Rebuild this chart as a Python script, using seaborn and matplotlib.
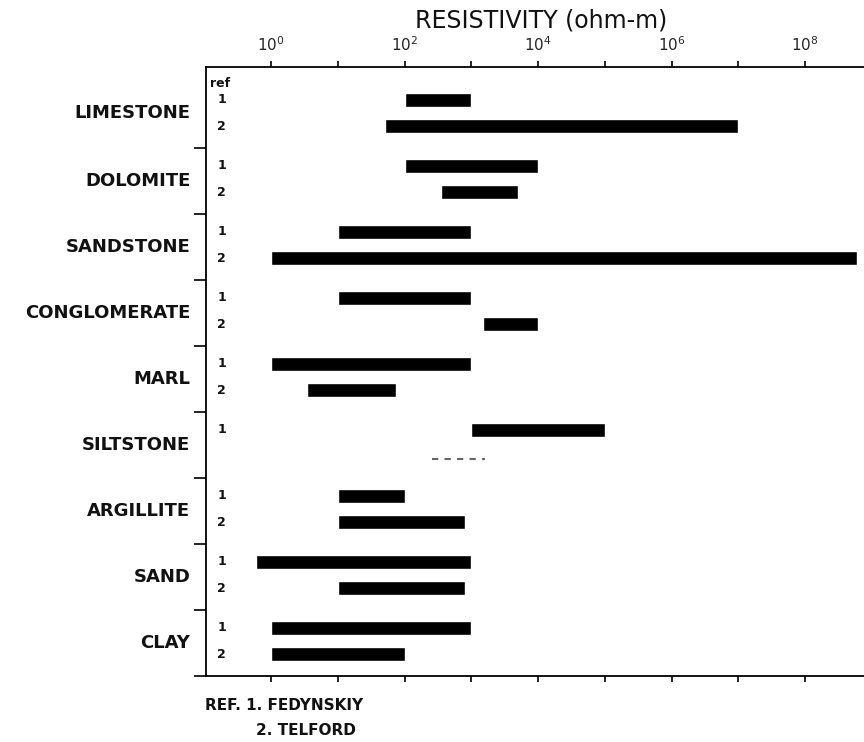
import numpy as np
import pandas as pd
import seaborn as sns
import matplotlib.pyplot as plt

# resistivity ranges (ohm-m)
rocks = ['LIMESTONE', 'DOLOMITE', 'SANDSTONE', 'CONGLOMERATE', 'MARL',
         'SILTSTONE', 'ARGILLITE', 'SAND', 'CLAY']
ref1_low = [1e2, 1e2, 1e1, 1e1, 1e0, 1e3, 1e1, 0.6, 1e0]
ref1_high = [1e3, 1e4, 1e3, 1e3, 1e3, 1e5, 1e2, 1e3, 1e3]
ref2_low = [50, 350, 1e0, 1.5e3, 3.4, np.nan, 1e1, 1e1, 1e0]
ref2_high = [1e7, 5e3, 6e8, 1e4, 75, np.nan, 800, 800, 1e2]
# siltstone ref 2 shown only as a faint dashed line
silt2_range = [260, 1600]

tick_exp = [0, 2, 4, 6, 8]

sns.set_theme(style='white')
plt.rcParams['font.family'] = ['DejaVu Sans']

fig = plt.figure(figsize=(8.64, 7.42), dpi=100)
ax = fig.add_axes([0.238, 0.089, 0.762, 0.821])

rows = []
for i, r in enumerate(rocks):
    rows.append({'rock': r, 'ref': 1, 'y': i + 0.27, 'lo': ref1_low[i], 'hi': ref1_high[i]})
    if not np.isnan(ref2_low[i]):
        rows.append({'rock': r, 'ref': 2, 'y': i + 0.67, 'lo': ref2_low[i], 'hi': ref2_high[i]})
df = pd.DataFrame(rows)

ax.barh(df['y'], df['hi'] - df['lo'], left=df['lo'], height=0.22, color='black')

# faint dashed range for siltstone ref 2
ax.hlines(5 + 0.71, silt2_range[0], silt2_range[1], colors='#666666',
          linestyles=(0, (3, 3)), linewidth=1.5)

ax.set_xscale('log')
ax.set_xlim(10 ** -0.98, 10 ** 8.88)
ax.set_ylim(9, -0.23)

# row labels inside the panel
for _, row in df.iterrows():
    ax.text(10 ** -0.74, row['y'], str(row['ref']), ha='center', va='center',
            fontsize=9, fontweight='bold', color='#111111')
ax.text(10 ** -0.92, 0.02, 'ref', ha='left', va='center', fontsize=9,
        fontweight='bold', color='#111111')

# rock names centred on each group
for i, r in enumerate(rocks):
    yc = i + 0.5 if i > 0 else 0.47
    ax.text(-0.023, yc, r, transform=ax.get_yaxis_transform(), ha='right', va='center',
            fontsize=13, fontweight='bold', color='#111111')

# group separators as outward ticks on the left spine
ax.set_yticks(np.arange(1, 10))
ax.set_yticklabels([])
ax.tick_params(axis='y', left=True, direction='out', length=9, width=1.2, color='black')

# decade ticks top and bottom, labels on top
ax.set_xticks([10.0 ** e for e in range(0, 9)])
ax.xaxis.set_minor_locator(plt.NullLocator())
ax.set_xticklabels(['$10^{%d}$' % e if e in tick_exp else '' for e in range(0, 9)])
ax.tick_params(axis='x', top=True, bottom=True, labeltop=True, labelbottom=False,
               direction='out', length=4, width=1.2, color='black', labelsize=11, pad=5)

for side in ['left', 'top', 'bottom']:
    ax.spines[side].set_color('black')
    ax.spines[side].set_linewidth(1.3)
ax.spines['right'].set_visible(False)

fig.text(0.626, 0.972, 'RESISTIVITY (ohm-m)', ha='center', va='center',
         fontsize=17, color='#111111')

fig.text(0.237, 0.049, 'REF. 1. FEDYNSKIY', ha='left', va='center',
         fontsize=11, fontweight='bold', color='#111111')
fig.text(0.296, 0.016, '2. TELFORD', ha='left', va='center',
         fontsize=11, fontweight='bold', color='#111111')

fig.savefig('out.png', dpi=100)
